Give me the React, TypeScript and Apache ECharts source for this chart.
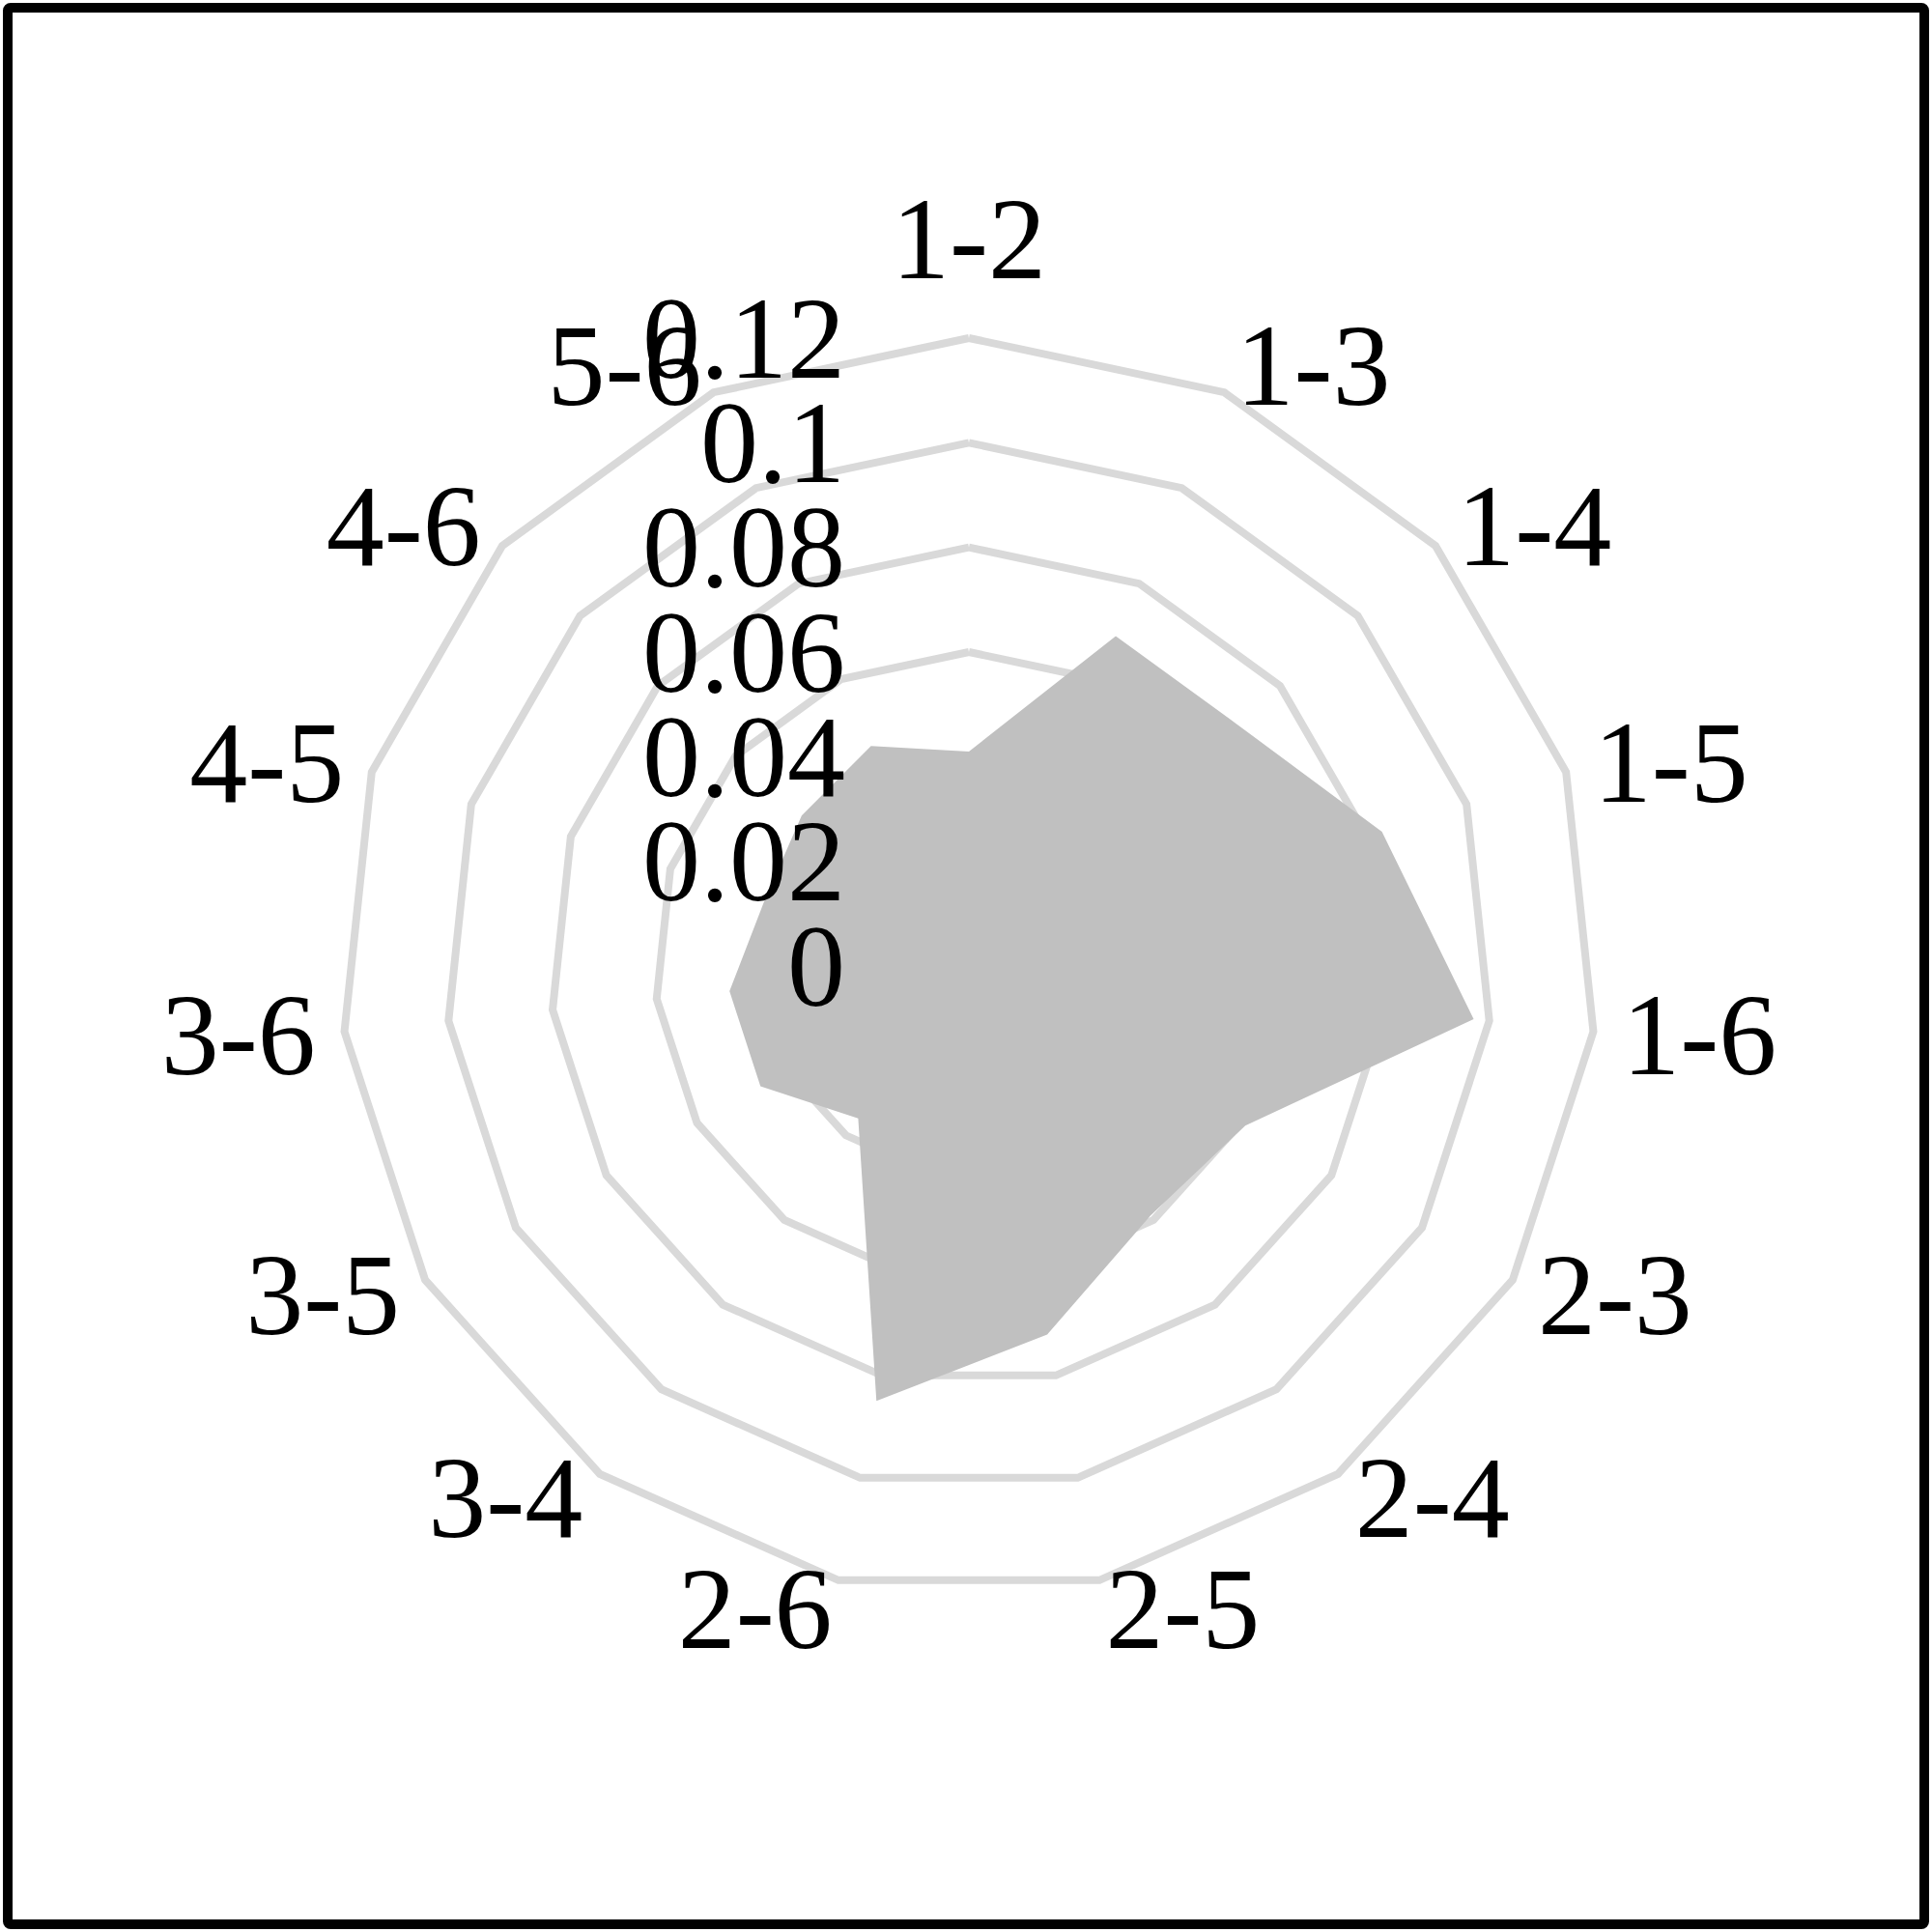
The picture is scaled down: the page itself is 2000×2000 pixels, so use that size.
import React, { useEffect, useRef } from "react";
import * as echarts from "echarts";

const indicators = ["1-2", "1-3", "1-4", "1-5", "1-6", "2-3", "2-4", "2-5", "2-6", "3-4", "3-5", "3-6", "4-5", "4-6", "5-6"];
const values = [0.041, 0.069, 0.069, 0.083, 0.097, 0.061, 0.059, 0.072, 0.085, 0.036, 0.046, 0.046, 0.041, 0.043, 0.046];
const axisMin = 0;
const axisMax = 0.12;
const splitCount = 6;
// tick labels that ECharts would hide next to the forced min/max labels
const innerTicks = [0.02, 0.1];

const FONT = "'Liberation Serif', 'Times New Roman', serif";

// ECharts lays indicators counter-clockwise; reorder to run clockwise from the top.
const order = [0, ...indicators.map((_, i) => i).slice(1).reverse()];
const orderedNames = order.map((i) => indicators[i]);
const orderedValues = order.map((i) => values[i]);

const isInner = (v: number) => innerTicks.some((t) => Math.abs(t - v) < 1e-9);

export default function App() {
  const ref = useRef<HTMLDivElement>(null);
  useEffect(() => {
    document.body.style.margin = "0";
    const chart = echarts.init(ref.current!, null, { renderer: "svg" });
    const common = {
      center: [1003, 1000],
      radius: 650,
      startAngle: 90,
      splitNumber: splitCount,
      shape: "polygon",
      nameGap: 30,
      axisLine: { show: false },
      axisTick: { show: false },
      splitArea: { show: false },
    };
    const labelBase = {
      show: false,
      color: "#000000",
      fontFamily: FONT,
      fontSize: 120,
      margin: 128,
      hideOverlap: false,
    };
    const labelRadar = (z: number, extra: any) => ({
      ...common,
      z,
      indicator: orderedNames.map((n, i) => ({
        name: "",
        min: axisMin,
        max: axisMax,
        axisLabel: { show: i === 0 },
      })),
      axisName: { show: false },
      splitLine: { show: false },
      axisLabel: { ...labelBase, ...extra },
    });
    chart.setOption({
      animation: false,
      backgroundColor: "#ffffff",
      radar: [
        {
          ...common,
          z: 0,
          indicator: orderedNames.map((n) => ({ name: n, min: axisMin, max: axisMax })),
          axisName: { color: "#000000", fontFamily: FONT, fontSize: 120, lineHeight: 146 },
          splitLine: { show: true, lineStyle: { color: "#d9d9d9", width: 8 } },
          axisLabel: { show: false },
        },
        labelRadar(10, {
          showMinLabel: true,
          showMaxLabel: true,
          formatter: (v: number) => (isInner(v) ? "" : String(v)),
        }),
        labelRadar(11, {
          showMinLabel: false,
          showMaxLabel: false,
          formatter: (v: number) => (isInner(v) ? String(v) : ""),
        }),
      ],
      series: [
        {
          type: "radar",
          radarIndex: 0,
          z: 2,
          symbol: "none",
          lineStyle: { width: 0, color: "#c0c0c0" },
          areaStyle: { color: "#c0c0c0", opacity: 1 },
          data: [{ value: orderedValues, name: "value" }],
        },
      ],
      graphic: [
        {
          type: "rect",
          z: 100,
          shape: { x: 8, y: 8, width: 1984, height: 1984, r: 3 },
          style: { fill: "none", stroke: "#000000", lineWidth: 10 },
          silent: true,
        },
      ],
    });
    return () => chart.dispose();
  }, []);
  return <div ref={ref} style={{ width: 2000, height: 2000 }} />;
}
